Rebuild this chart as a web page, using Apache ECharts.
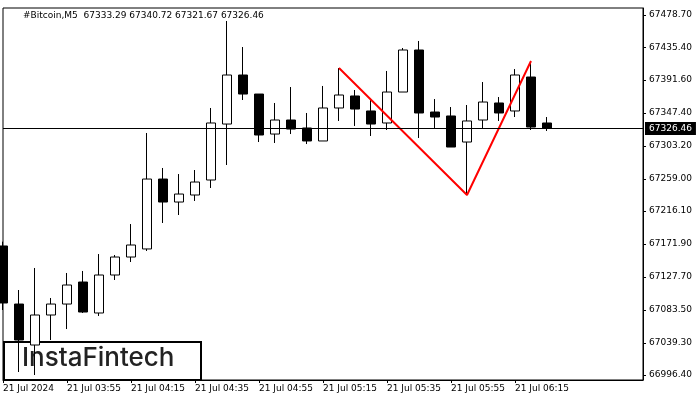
<!DOCTYPE html>
<html>
<head>
<meta charset="utf-8">
<script src="https://cdn.jsdelivr.net/npm/echarts@6/dist/echarts.min.js"></script>
<style>html,body{margin:0;padding:0;background:#fff}#main{width:700px;height:400px}</style>
</head>
<body>
<div id="main"></div>
<script>
// 5-minute candles, 21 Jul 2024 from 03:35
var times = [];
for (var i = 0; i < 41; i++) {
    var m = 3 * 60 + 35 + i * 5;
    times.push('21 Jul ' + ('0' + Math.floor(m / 60)).slice(-2) + ':' + ('0' + m % 60).slice(-2));
}
// [open, close, low, high]
var candles = [
    [67169.2, 67092.8, 67083.4, 67175.0],
    [67091.4, 67043.2, 67000.3, 67110.2],
    [67036.5, 67076.7, 66996.3, 67139.7],
    [67076.7, 67091.4, 67043.2, 67099.5],
    [67091.4, 67116.9, 67057.9, 67133.0],
    [67120.9, 67080.7, 67079.4, 67135.7],
    [67079.4, 67130.3, 67075.4, 67158.4],
    [67130.3, 67154.4, 67123.6, 67157.1],
    [67154.4, 67170.5, 67147.7, 67198.6],
    [67165.2, 67258.9, 67162.5, 67320.6],
    [67258.9, 67228.1, 67200.0, 67273.7],
    [67228.1, 67238.8, 67210.7, 67265.6],
    [67237.5, 67254.9, 67229.5, 67271.0],
    [67257.6, 67334.0, 67246.9, 67354.1],
    [67332.6, 67398.3, 67277.7, 67470.7],
    [67398.3, 67372.8, 67364.8, 67435.8],
    [67372.8, 67317.9, 67308.5, 67372.8],
    [67319.2, 67338.0, 67307.2, 67360.8],
    [67338.0, 67325.9, 67319.2, 67382.2],
    [67327.3, 67309.9, 67305.8, 67347.4],
    [67309.9, 67354.1, 67309.9, 67383.6],
    [67354.1, 67371.5, 67336.7, 67407.7],
    [67370.2, 67352.7, 67330.0, 67378.2],
    [67350.1, 67332.6, 67316.6, 67364.8],
    [67334.0, 67375.5, 67324.6, 67403.7],
    [67375.5, 67431.8, 67375.5, 67434.5],
    [67431.8, 67347.4, 67313.9, 67443.9],
    [67348.7, 67342.0, 67327.3, 67366.1],
    [67343.4, 67301.8, 67301.8, 67355.4],
    [67308.5, 67336.7, 67237.5, 67358.1],
    [67338.0, 67362.1, 67327.3, 67388.9],
    [67360.8, 67347.4, 67336.7, 67368.8],
    [67350.1, 67398.3, 67342.0, 67406.3],
    [67395.6, 67328.6, 67324.6, 67417.1],
    [67334.0, 67327.3, 67323.3, 67342.0]
];
// double bottom pattern line
var patternLine = [[21, 67407.7], [29, 67237.5], [33, 67417.1]];
var lastPrice = 67326.46;
var priceTicks = [67478.70, 67435.40, 67391.60, 67347.40, 67303.20, 67259.00, 67216.10, 67171.90, 67127.70, 67083.50, 67039.30, 66996.40];

var myChart = echarts.init(document.getElementById('main'));
var font = 'DejaVu Sans';
var option = {
    animation: false,
    textStyle: {fontFamily: font},
    title: {
        text: '#Bitcoin,M5  67333.29 67340.72 67321.67 67326.46',
        left: 18, top: 6,
        textStyle: {fontSize: 9, fontWeight: 'normal', color: '#000', fontFamily: font}
    },
    grid: {left: 3, right: 57, top: 8, bottom: 20, show: true, borderColor: '#000', borderWidth: 1},
    xAxis: {
        type: 'category',
        data: times,
        boundaryGap: false,
        axisLine: {lineStyle: {color: '#000'}},
        axisTick: {show: true, interval: function (i) { return i % 4 === 0 && i <= 32; }, length: 3, lineStyle: {color: '#000'}},
        axisLabel: {
            interval: function (i) { return i % 4 === 0 && i <= 32; },
            align: 'left', fontSize: 9, color: '#000', margin: 4,
            formatter: function (v, i) { return i === 0 ? '21 Jul 2024' : v; }
        },
        splitLine: {show: false}
    },
    yAxis: {
        type: 'value',
        position: 'right',
        min: 66989.6, max: 67488.1,
        axisLine: {show: true, lineStyle: {color: '#000'}},
        axisTick: {show: true, length: 3, customValues: priceTicks, lineStyle: {color: '#000'}},
        axisLabel: {
            customValues: priceTicks, fontSize: 9, color: '#000', margin: 6,
            formatter: function (v) { return v.toFixed(2); }
        },
        splitLine: {show: false}
    },
    series: [
        {
            type: 'candlestick',
            data: candles,
            barWidth: 10,
            clip: true,
            itemStyle: {color: '#fff', color0: '#000', borderColor: '#000', borderColor0: '#000', borderWidth: 1},
            markLine: {
                silent: true, symbol: 'none',
                lineStyle: {color: '#000', width: 1, type: 'solid'},
                label: {
                    position: 'end', formatter: lastPrice.toFixed(2), color: '#fff',
                    backgroundColor: '#000', padding: [2, 4], fontSize: 9, distance: 2
                },
                data: [{yAxis: lastPrice}]
            }
        },
        {
            type: 'line',
            data: patternLine,
            symbol: 'none',
            lineStyle: {color: '#ff0000', width: 2}
        }
    ],
    graphic: [
        {type: 'rect', left: 3, top: 341, shape: {width: 197, height: 38}, style: {fill: '#fff', stroke: '#000', lineWidth: 2}},
        {type: 'text', left: 22, top: 345, style: {text: 'InstaFintech', fontSize: 26, fontWeight: 500, fontFamily: 'Inter', fill: '#222'}}
    ]
};
myChart.setOption(option);
</script>
</body>
</html>
